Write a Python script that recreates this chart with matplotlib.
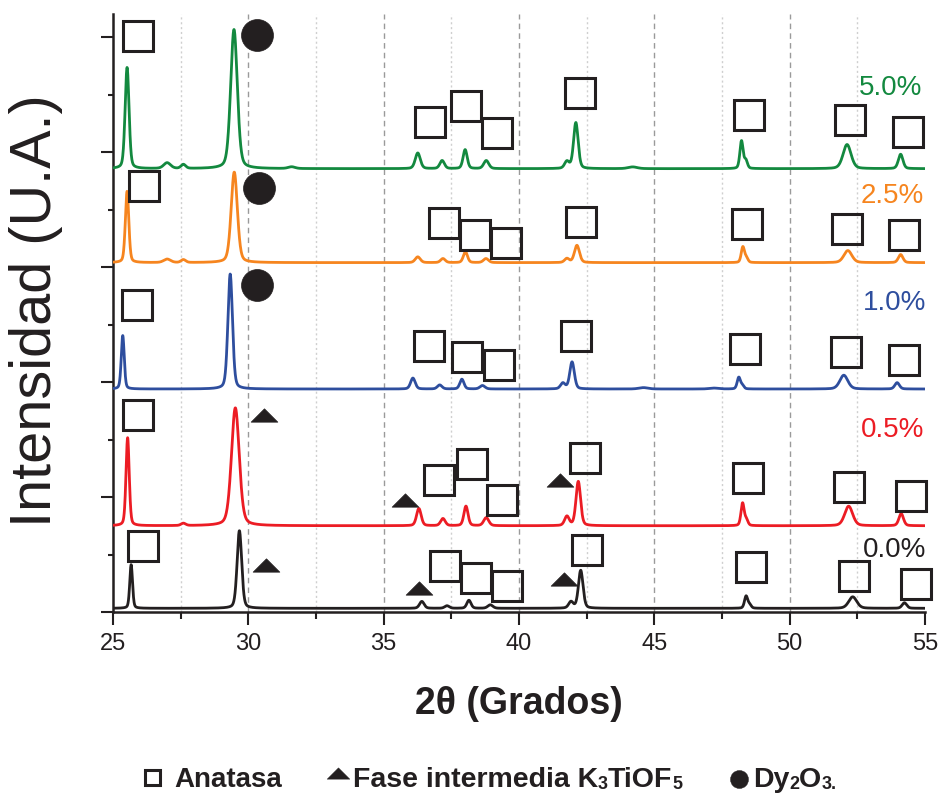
import numpy as np
import matplotlib
matplotlib.use("Agg")
import matplotlib.pyplot as plt
from matplotlib.path import Path
from matplotlib.ticker import MultipleLocator, NullFormatter

plt.rcParams["font.family"] = ["Liberation Sans", "DejaVu Sans"]

# ---------------- data ----------------
labels = ["0.0%", "0.5%", "1.0%", "2.5%", "5.0%"]
colors = ["#231f20", "#ec1c24", "#2e4e9e", "#f6851f", "#13893f"]
baselines = [32, 750, 1939, 3038, 3855]

# peak centre (2theta), height above baseline (a.u.), FWHM (deg)
pos_00 = [25.67, 29.67, 36.41, 37.34, 38.15, 38.94, 41.92, 42.28, 48.39, 48.52, 52.33, 54.24]
amp_00 = [380, 675, 60, 22, 70, 30, 55, 330, 105, 30, 100, 48]
fwhm_00 = [0.12, 0.20, 0.20, 0.20, 0.18, 0.22, 0.20, 0.20, 0.14, 0.14, 0.35, 0.20]

pos_05 = [25.54, 27.6, 29.52, 36.30, 37.19, 38.04, 38.79, 41.77, 42.19, 48.26, 48.40, 52.18, 54.12]
amp_05 = [765, 20, 1025, 150, 62, 170, 70, 80, 385, 195, 50, 170, 105]
fwhm_05 = [0.14, 0.20, 0.34, 0.20, 0.20, 0.18, 0.22, 0.20, 0.20, 0.14, 0.14, 0.35, 0.20]

pos_10 = [25.36, 29.33, 36.08, 37.07, 37.89, 38.65, 41.62, 41.96, 44.6, 47.2, 48.12, 48.25, 52.00, 53.97]
amp_10 = [465, 1000, 95, 35, 85, 30, 50, 235, 12, 8, 100, 30, 120, 55]
fwhm_10 = [0.13, 0.20, 0.20, 0.20, 0.18, 0.22, 0.20, 0.20, 0.40, 0.40, 0.14, 0.14, 0.35, 0.20]

pos_25 = [25.52, 27.0, 27.6, 29.48, 36.26, 37.19, 38.02, 38.78, 41.77, 42.14, 48.27, 48.40, 52.15, 54.10]
amp_25 = [620, 30, 25, 787, 50, 35, 95, 35, 35, 150, 135, 40, 105, 70]
fwhm_25 = [0.15, 0.30, 0.20, 0.27, 0.22, 0.20, 0.18, 0.22, 0.20, 0.22, 0.14, 0.14, 0.35, 0.20]

pos_50 = [25.52, 27.0, 27.6, 29.47, 31.6, 36.26, 37.16, 38.01, 38.79, 41.77, 42.10, 44.2, 48.22, 48.38, 52.12, 54.10]
amp_50 = [880, 50, 35, 1210, 15, 136, 70, 165, 70, 60, 400, 15, 240, 70, 210, 125]
fwhm_50 = [0.17, 0.30, 0.20, 0.29, 0.30, 0.22, 0.20, 0.18, 0.22, 0.20, 0.20, 0.40, 0.14, 0.14, 0.35, 0.20]

positions = [pos_00, pos_05, pos_10, pos_25, pos_50]
amplitudes = [amp_00, amp_05, amp_10, amp_25, amp_50]
widths = [fwhm_00, fwhm_05, fwhm_10, fwhm_25, fwhm_50]

# phase marks (2theta, intensity) for each pattern
anatase_x = [
    [26.11, 37.27, 38.41, 39.55, 42.53, 48.57, 52.39, 54.67],
    [25.92, 37.05, 38.27, 39.36, 42.43, 48.47, 52.18, 54.48],
    [25.89, 36.68, 38.09, 39.25, 42.10, 48.36, 52.07, 54.24],
    [26.16, 37.23, 38.36, 39.51, 42.28, 48.41, 52.13, 54.21],
    [25.94, 36.71, 38.06, 39.17, 42.25, 48.51, 52.22, 54.39],
]
anatase_y = [
    [570, 401, 297, 228, 535, 394, 315, 242],
    [1717, 1148, 1283, 974, 1335, 1164, 1089, 1013],
    [2667, 2312, 2220, 2148, 2402, 2288, 2264, 2191],
    [3706, 3384, 3280, 3210, 3394, 3378, 3329, 3278],
    [5006, 4263, 4402, 4167, 4517, 4322, 4274, 4172],
]
k3tiof5_x = [30.64, 36.29, 41.65, 30.59, 35.80, 41.52]
k3tiof5_y = [409, 206, 287, 1713, 977, 1148]
dy2o3_x = [30.32, 30.40, 30.31]
dy2o3_y = [2846, 3691, 5017]

label_x = [55.03, 54.96, 55.03, 54.96, 54.89]
label_y = [476, 1519, 2626, 3554, 4496]

# ---------------- profile ----------------
def pseudo_voigt(x, c, h, w, eta=0.3):
    d = (x - c) / w
    return h * (eta / (1 + 4 * d ** 2) + (1 - eta) * np.exp(-4 * np.log(2) * d ** 2))

two_theta = np.linspace(25, 55, 4000)

INK = "#231f20"
W, H = 940, 793
fig = plt.figure(figsize=(9.4, 7.93), dpi=100)
ax = fig.add_axes([113 / W, 181 / H, 812 / W, 598 / H])
ax.set_xlim(25, 55)
ax.set_ylim(0, 5200)

for xv in np.arange(30, 55, 5):
    ax.axvline(xv, color="#9a9a9a", lw=1.0, ls=(0, (4, 3)), zorder=0)
for xv in np.arange(27.5, 55, 5):
    ax.axvline(xv, color="#cfcfcf", lw=1.0, ls=(0, (1.5, 2)), zorder=0)

for b, p, a, w, col in zip(baselines, positions, amplitudes, widths, colors):
    y = np.full_like(two_theta, b, dtype=float)
    for c, h, fw in zip(p, a, w):
        y += pseudo_voigt(two_theta, c, h, fw)
    ax.plot(two_theta, y, color=col, lw=2.0, zorder=3, solid_joinstyle="round")

for xs, ys in zip(anatase_x, anatase_y):
    ax.plot(xs, ys, ls="none", marker="s", ms=21.6, mew=2.2, mfc="none",
            mec=INK, clip_on=False, zorder=4)

tri = Path([(-1, -0.5), (1, -0.5), (0, 0.5), (-1, -0.5)],
           [Path.MOVETO, Path.LINETO, Path.LINETO, Path.CLOSEPOLY])
ax.plot(k3tiof5_x, k3tiof5_y, ls="none", marker=tri, ms=19.2, mew=0.5,
        mfc=INK, mec=INK, clip_on=False, zorder=4)
ax.plot(dy2o3_x, dy2o3_y, ls="none", marker="o", ms=23, mew=0.5,
        mfc=INK, mec=INK, clip_on=False, zorder=4)

for lx, ly, txt, col in zip(label_x, label_y, labels, colors):
    ax.text(lx, ly, txt, color=col, fontsize=20, ha="right", va="baseline")

# axes styling
for side in ("top", "right"):
    ax.spines[side].set_visible(False)
for side in ("left", "bottom"):
    ax.spines[side].set_linewidth(1.8)
    ax.spines[side].set_color(INK)
ax.xaxis.set_major_locator(MultipleLocator(5))
ax.xaxis.set_minor_locator(MultipleLocator(2.5))
ax.yaxis.set_major_locator(MultipleLocator(1000))
ax.yaxis.set_minor_locator(MultipleLocator(500))
ax.yaxis.set_major_formatter(NullFormatter())
ax.tick_params(axis="x", which="major", direction="out", length=9.4, width=1.5,
               color=INK, labelsize=17, labelcolor=INK, pad=6)
ax.tick_params(axis="x", which="minor", direction="out", length=5, width=1.5, color=INK)
ax.tick_params(axis="y", which="major", direction="out", length=8.3, width=1.5, color=INK)
ax.tick_params(axis="y", which="minor", direction="out", length=3.6, width=1.5, color=INK)

fig.text(36 / W, 1 - 311 / H, "Intensidad (U.A.)", rotation=90, fontsize=41.5,
         color=INK, ha="center", va="center")
fig.text(519 / W, 1 - 714 / H, "2θ (Grados)", fontsize=27, fontweight="bold",
         color=INK, ha="center", va="baseline")

# legend row: text pieces chained left to right, subscripts drawn smaller
renderer = fig.canvas.get_renderer()
base_px = 786.7


def chain(x_px, pieces):
    for txt, size, drop in pieces:
        t = fig.text(x_px / W, 1 - (base_px + drop) / H, txt, fontsize=size,
                     fontweight="bold", color=INK, va="baseline", ha="left")
        x_px += t.get_window_extent(renderer).width


def fig_marker(px, py, **kw):
    fig.add_artist(plt.Line2D([px / W], [1 - py / H], transform=fig.transFigure,
                              ls="none", **kw))


fig_marker(151.7, 776.7, marker="s", ms=10.8, mew=2.2, mfc="none", mec=INK)
chain(174, [("Anatasa", 20, 0)])
fig_marker(338, 773, marker=tri, ms=16.3, mew=0.3, mfc=INK, mec=INK)
chain(353, [("Fase intermedia K", 20.5, 0), ("3", 13, 2), ("TiOF", 20.5, 0), ("5", 13, 2)])
fig_marker(739, 778.7, marker="o", ms=13, mew=0.3, mfc=INK, mec=INK)
chain(753, [("Dy", 20.5, 0), ("2", 13, 2), ("O", 20.5, 0), ("3.", 13, 2)])

fig.savefig("out.png", dpi=100)
